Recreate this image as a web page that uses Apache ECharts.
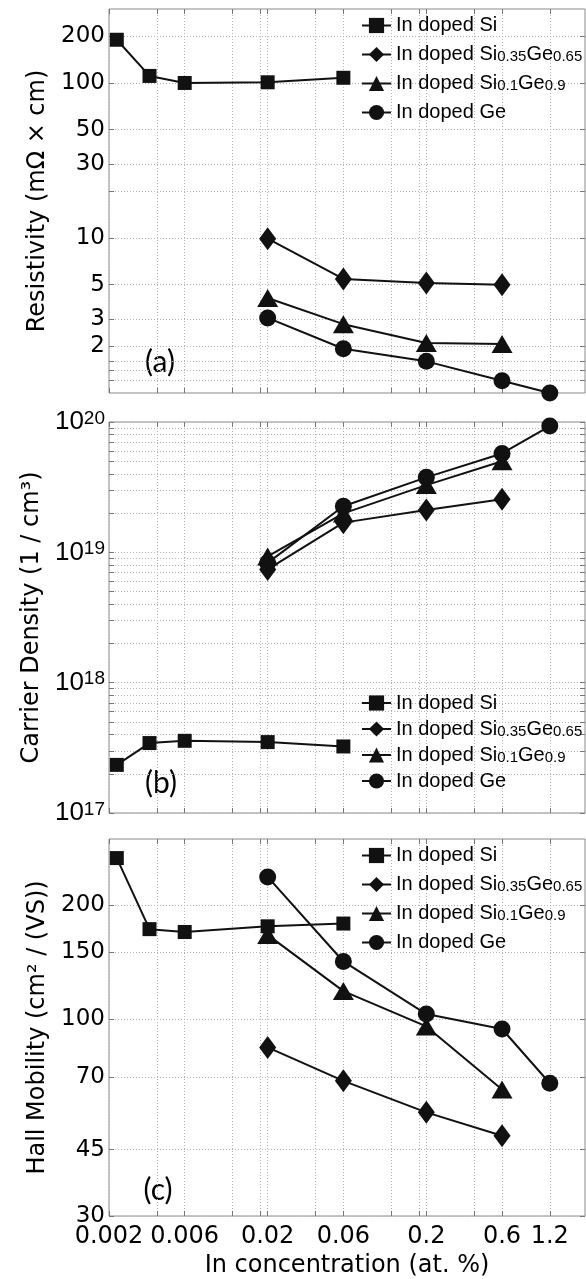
<!DOCTYPE html>
<html><head><meta charset="utf-8">
<script src="https://cdn.jsdelivr.net/npm/echarts@6/dist/echarts.min.js"></script>
<style>html,body{margin:0;padding:0;background:#fff}#c{width:586px;height:1279px}</style>
</head><body><div id="c"></div>
<script>
// ---------------- data ----------------
const seriesNames = ['In doped Si', 'In doped Si0.35Ge0.65', 'In doped Si0.1Ge0.9', 'In doped Ge'];
const siX = [0.00224, 0.0036, 0.006, 0.02, 0.06];
const alloyX = [0.02, 0.06, 0.2, 0.6];
const geX = [0.02, 0.06, 0.2, 0.6, 1.2];

// (a) resistivity, mOhm*cm
const resSi = [190, 111, 100, 101, 108];
const resSiGe35 = [9.9, 5.44, 5.13, 5.0];
const resSiGe10 = [4.1, 2.78, 2.10, 2.07];
const resGe = [3.05, 1.93, 1.60, 1.20, 1.0];

// (b) carrier density, 1/cm^3
const carSi = [2.34e17, 3.44e17, 3.58e17, 3.50e17, 3.24e17];
const carSiGe35 = [7.4e18, 1.69e19, 2.11e19, 2.55e19];
const carSiGe10 = [9.3e18, 1.99e19, 3.28e19, 5.0e19];
const carGe = [8.3e18, 2.26e19, 3.76e19, 5.74e19, 9.3e19];

// (c) hall mobility, cm^2/(Vs)
const mobSi = [267, 173, 170, 176, 179];
const mobSiGe35 = [84, 68.5, 56.5, 49];
const mobSiGe10 = [167, 118.5, 95.5, 65];
const mobGe = [238, 142, 103, 94, 67.5];

// ticks
const xTickValues = [0.002, 0.004, 0.006, 0.012, 0.018, 0.02, 0.04, 0.06, 0.12, 0.18, 0.2, 0.4, 0.6, 1.2];
const xTickLabels = ['0.002', '0.006', '0.02', '0.06', '0.2', '0.6', '1.2'];
const resTickValues = [1.2, 1.4, 1.6, 2, 3, 5, 10, 20, 30, 50, 100, 200];
const resTickLabels = ['2', '3', '5', '10', '30', '50', '100', '200'];
const carExponents = [17, 18, 19, 20];
const mobTickValues = [30, 45, 70, 100, 150, 200];
const mobTickLabels = ['30', '45', '70', '100', '150', '200'];
const panelLabels = ['(a)', '(b)', '(c)'];
const yNames = ['Resistivity (mΩ × cm)', 'Carrier Density (1 / cm³)', 'Hall Mobility (cm² / (VS))'];
const xName = 'In concentration (at. %)';

// ---------------- build ----------------
const carTickValues = [];
carExponents.slice(0, -1).forEach(e => { for (let m = 1; m <= 9; m++) carTickValues.push(m * Math.pow(10, e)); });
carTickValues.push(Math.pow(10, carExponents[carExponents.length - 1]));

const zip = (xs, ys) => xs.map((x, i) => [x, ys[i]]);
const near = (a, b) => Math.abs(Math.log10(a) - Math.log10(b)) < 1e-6;

const FONT = 'DejaVu Sans';
const grids = [
  { left: 109, right: 1, top: 9, height: 384 },
  { left: 109, right: 1, top: 422, height: 391 },
  { left: 109, right: 1, top: 839, height: 379 }
].map(g => Object.assign(g, { show: true, borderColor: '#8a8a8a', borderWidth: 1, backgroundColor: 'transparent', containLabel: false }));

const gridLine = { show: true, lineStyle: { color: '#b5b5b5', width: 1, type: [1, 2] } };
const tickStyle = (vals) => ({ show: true, inside: true, length: 5, customValues: vals, lineStyle: { color: '#777', width: 1 } });

const xAxes = [], yAxes = [];
const yRanges = [[1, 300], [1e17, 1e20], [30, 300]];
const yTicks = [resTickValues, carTickValues, mobTickValues];
const yLabelVals = [resTickLabels.map(Number), carExponents.map(e => Math.pow(10, e)), mobTickLabels.map(Number)];

for (let g = 0; g < 3; g++) {
  xAxes.push({
    type: 'log', gridIndex: g, min: 0.002, max: 2, position: 'bottom',
    axisLine: { show: false }, axisTick: tickStyle(xTickValues), splitLine: gridLine, minorTick: { show: false },
    axisLabel: {
      show: g === 2, customValues: xTickLabels.map(Number), margin: 9, color: '#000', fontFamily: FONT, fontSize: 24,
      formatter: v => { const s = xTickLabels.find(t => near(+t, v)); return s || ''; }
    },
    name: g === 2 ? xName : '', nameLocation: 'middle', nameGap: 38,
    nameTextStyle: { color: '#000', fontFamily: FONT, fontSize: 24 }
  });
  xAxes.push({
    type: 'log', gridIndex: g, min: 0.002, max: 2, position: 'top',
    axisLine: { show: false }, axisTick: tickStyle(xTickValues), splitLine: { show: false },
    axisLabel: { show: false }
  });
  const labelCfg = g === 1 ? {
    customValues: yLabelVals[1], margin: 4, color: '#000',
    formatter: v => '{b|10}{s|' + Math.round(Math.log10(v)) + '}',
    rich: {
      b: { fontFamily: 'Liberation Sans', fontSize: 26, color: '#000', verticalAlign: 'bottom', lineHeight: 26 },
      s: { fontFamily: 'Liberation Sans', fontSize: 19, color: '#000', verticalAlign: 'top', lineHeight: 19, padding: [0, 0, 12, 0] }
    }
  } : {
    customValues: yLabelVals[g], margin: 4, color: '#000', fontFamily: FONT, fontSize: 23,
    formatter: v => { const arr = g === 0 ? resTickLabels : mobTickLabels; const s = arr.find(t => near(+t, v)); return s || ''; }
  };
  yAxes.push({
    type: 'log', gridIndex: g, min: yRanges[g][0], max: yRanges[g][1], position: 'left',
    axisLine: { show: false }, axisTick: tickStyle(yTicks[g]), splitLine: gridLine,
    axisLabel: labelCfg,
    name: yNames[g], nameLocation: 'middle', nameGap: 57,
    nameTextStyle: { color: '#000', fontFamily: FONT, fontSize: 24 }
  });
  yAxes.push({
    type: 'log', gridIndex: g, min: yRanges[g][0], max: yRanges[g][1], position: 'right',
    axisLine: { show: false }, axisTick: tickStyle(yTicks[g]), splitLine: { show: false },
    axisLabel: { show: false }
  });
}

const symbols = [
  { symbol: 'rect', symbolSize: 14 },
  { symbol: 'diamond', symbolSize: [17, 23] },
  { symbol: 'triangle', symbolSize: [21, 18] },
  { symbol: 'circle', symbolSize: 17 }
];
const panelData = [
  [zip(siX, resSi), zip(alloyX, resSiGe35), zip(alloyX, resSiGe10), zip(geX, resGe)],
  [zip(siX, carSi), zip(alloyX, carSiGe35), zip(alloyX, carSiGe10), zip(geX, carGe)],
  [zip(siX, mobSi), zip(alloyX, mobSiGe35), zip(alloyX, mobSiGe10), zip(geX, mobGe)]
];
const series = [];
panelData.forEach((sets, g) => {
  sets.forEach((d, k) => {
    series.push(Object.assign({
      type: 'line', name: seriesNames[k], data: d, xAxisIndex: g * 2, yAxisIndex: g * 2,
      itemStyle: { color: '#111', borderWidth: 0 }, lineStyle: { color: '#111', width: 2 },
      showAllSymbol: true, emphasis: { disabled: true }, silent: true, z: 3 + k, clip: true
    }, symbols[k]));
  });
});

const legendFmt = name => name.replace(/^(.*?)(\d\.\d+)?(Ge)?(\d\.\d+)?$/, (m, a, s1, ge, s2) => {
  let out = '{m|' + a + '}';
  if (s1) out += '{s|' + s1 + '}';
  if (ge) out += '{m|' + ge + '}';
  if (s2) out += '{s|' + s2 + '}';
  return out;
});
const mkLegend = (top, gap) => ({
  orient: 'vertical', left: 361, top: top, padding: 0, itemGap: gap, itemWidth: 29, itemHeight: 19,
  selectedMode: false, data: seriesNames, formatter: legendFmt,
  textStyle: {
    padding: [0, 0, 0, 0],
    rich: {
      m: { fontFamily: 'Liberation Sans', fontSize: 20, color: '#000', verticalAlign: 'middle' },
      s: { fontFamily: 'Liberation Sans', fontSize: 15, color: '#000', lineHeight: 15, verticalAlign: 'bottom' }
    }
  }
});

const graphic = panelLabels.map((t, i) => ({
  type: 'text', x: [160, 161, 158][i], y: [362, 783, 1190][i],
  style: { text: t, fill: '#000', font: '30px Lato', align: 'center', verticalAlign: 'middle' }
}));

const chart = echarts.init(document.getElementById('c'), null, { renderer: 'canvas' });
chart.setOption({
  animation: false, backgroundColor: '#fff',
  grid: grids, xAxis: xAxes, yAxis: yAxes, series: series,
  legend: [mkLegend(15.5, 9), mkLegend(693, 6), mkLegend(845.5, 9)],
  graphic: graphic
});
</script></body></html>
